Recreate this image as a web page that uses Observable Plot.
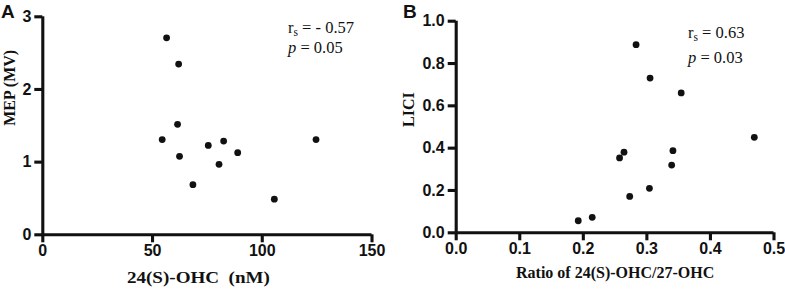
<!DOCTYPE html>
<html>
<head>
<meta charset="utf-8">
<script src="https://cdn.jsdelivr.net/npm/d3@7"></script>
<script src="https://cdn.jsdelivr.net/npm/@observablehq/plot@0.6"></script>
<style>
  body { margin: 0; background: #fff; }
  #wrap { position: relative; width: 785px; height: 291px; overflow: hidden; }
  #wrap svg { position: absolute; top: 0; }
  .panel { position: absolute; font-family: "Liberation Sans", Arial, sans-serif; font-weight: bold; font-size: 19px; line-height: 1; color: #111; }
  .stat { position: absolute; font-family: "Liberation Serif", "Times New Roman", serif; font-size: 16.5px; line-height: 1; white-space: nowrap; color: #111; }
  .stat sub { font-size: 11.5px; vertical-align: -2.5px; line-height: 0; }
</style>
</head>
<body>
<div id="wrap"></div>
<script>
// Panel A: 24(S)-OHC (nM) vs MEP (MV)
const ohc24 = [56.4, 61.9, 61.4, 54.4, 62.3, 68.4, 75.4, 82.4, 80.3, 88.8, 105.5, 124.5];
const mep   = [2.71, 2.35, 1.52, 1.31, 1.08, 0.69, 1.23, 1.29, 0.97, 1.13, 0.49, 1.31];
// Panel B: Ratio 24(S)-OHC/27-OHC vs LICI
const ratio = [0.192, 0.214, 0.257, 0.264, 0.273, 0.283, 0.304, 0.305, 0.339, 0.341, 0.354, 0.469];
const lici  = [0.057, 0.073, 0.354, 0.381, 0.172, 0.889, 0.210, 0.731, 0.320, 0.388, 0.661, 0.451];

const ticksAx = [0, 50, 100, 150];
const ticksAy = [0, 1, 2, 3];
const ticksBx = [0, 0.1, 0.2, 0.3, 0.4, 0.5];
const ticksBy = [0, 0.2, 0.4, 0.6, 0.8, 1.0];

const labelsA = {x: "24(S)-OHC  (nM)", y: "MEP (MV)"};
const labelsB = {x: "Ratio of 24(S)-OHC/27-OHC", y: "LICI"};

const dataA = ohc24.map((x, i) => ({x, y: mep[i]}));
const dataB = ratio.map((x, i) => ({x, y: lici[i]}));

const serif = "Liberation Serif, Times New Roman, serif";
const sans = "Liberation Sans, Arial, sans-serif";
const AX = 3.1;
const INK = "#111";

function panel(opts) {
  const {data, xDomain, yDomain, xTicks, yTicks, fmt, labels, width, ml, mr, mt, mb, xdx, xdy, ydx} = opts;
  return Plot.plot({
    width, height: 291,
    marginLeft: ml, marginRight: mr, marginTop: mt, marginBottom: mb,
    style: {fontFamily: sans, fontSize: "16px", color: INK, background: "transparent", overflow: "visible"},
    x: {domain: xDomain},
    y: {domain: yDomain},
    marks: [
      Plot.axisX({ticks: xTicks, tickFormat: () => "", tickSize: 8, stroke: INK, strokeWidth: AX, label: null}),
      Plot.axisY({ticks: yTicks, tickFormat: () => "", tickSize: 8, stroke: INK, strokeWidth: AX, label: null}),
      Plot.ruleY([yDomain[0]], {stroke: INK, strokeWidth: AX}),
      Plot.ruleX([xDomain[0]], {stroke: INK, strokeWidth: AX}),
      Plot.text(xTicks, {x: d => d, frameAnchor: "bottom", dy: 21.5, text: fmt, fontFamily: sans, fontSize: 16, fontWeight: "bold", fill: INK}),
      Plot.text(yTicks, {y: d => d, frameAnchor: "left", dx: -11.5, textAnchor: "end", text: fmt, fontFamily: sans, fontSize: 16, fontWeight: "bold", fill: INK}),
      Plot.dot(data, {x: "x", y: "y", r: 3.4, fill: INK, stroke: "none"}),
      Plot.text([labels.x], {frameAnchor: "bottom", dx: xdx, dy: xdy, fontFamily: serif, fontSize: 16, fontWeight: "bold", fill: INK}),
      Plot.text([labels.y], {frameAnchor: "left", dx: ydx, rotate: -90, fontFamily: serif, fontSize: 16, fontWeight: "bold", fill: INK})
    ]
  });
}

const wrap = document.getElementById("wrap");

const svgA = panel({
  data: dataA, xDomain: [0, 150], yDomain: [0, 3], xTicks: ticksAx, yTicks: ticksAy,
  fmt: d3.format("d"), labels: labelsA, width: 392, ml: 42.3, mr: 20.5, mt: 16.3, mb: 56.7,
  xdx: -9, xdy: 48.2, ydx: -33
});
svgA.style.left = "0px";
wrap.appendChild(svgA);
// the reference's x label in panel A is set wider than its height suggests
d3.select(svgA).selectAll("text").filter(function() { return this.textContent === labelsA.x; })
  .attr("textLength", 143).attr("lengthAdjust", "spacingAndGlyphs");

const svgB = panel({
  data: dataB, xDomain: [0, 0.5], yDomain: [0, 1], xTicks: ticksBx, yTicks: ticksBy,
  fmt: d3.format(".1f"), labels: labelsB, width: 393, ml: 63.7, mr: 11.5, mt: 20.7, mb: 58.7,
  xdx: 0, xdy: 45.2, ydx: -47.4
});
svgB.style.left = "392px";
wrap.appendChild(svgB);

function addHTML(cls, html, left, top) {
  const d = document.createElement("div");
  d.className = cls;
  d.innerHTML = html;
  d.style.left = left + "px";
  d.style.top = top + "px";
  wrap.appendChild(d);
}
addHTML("panel", "A", 1, 2);
addHTML("panel", "B", 403, 2);
addHTML("stat", "r<sub>s</sub> = - 0.57", 288, 20);
addHTML("stat", "<i>p</i> = 0.05", 288, 39.5);
addHTML("stat", "r<sub>s</sub> = 0.63", 688, 24.5);
addHTML("stat", "<i>p</i> = 0.03", 688, 49.5);
</script>
</body>
</html>
